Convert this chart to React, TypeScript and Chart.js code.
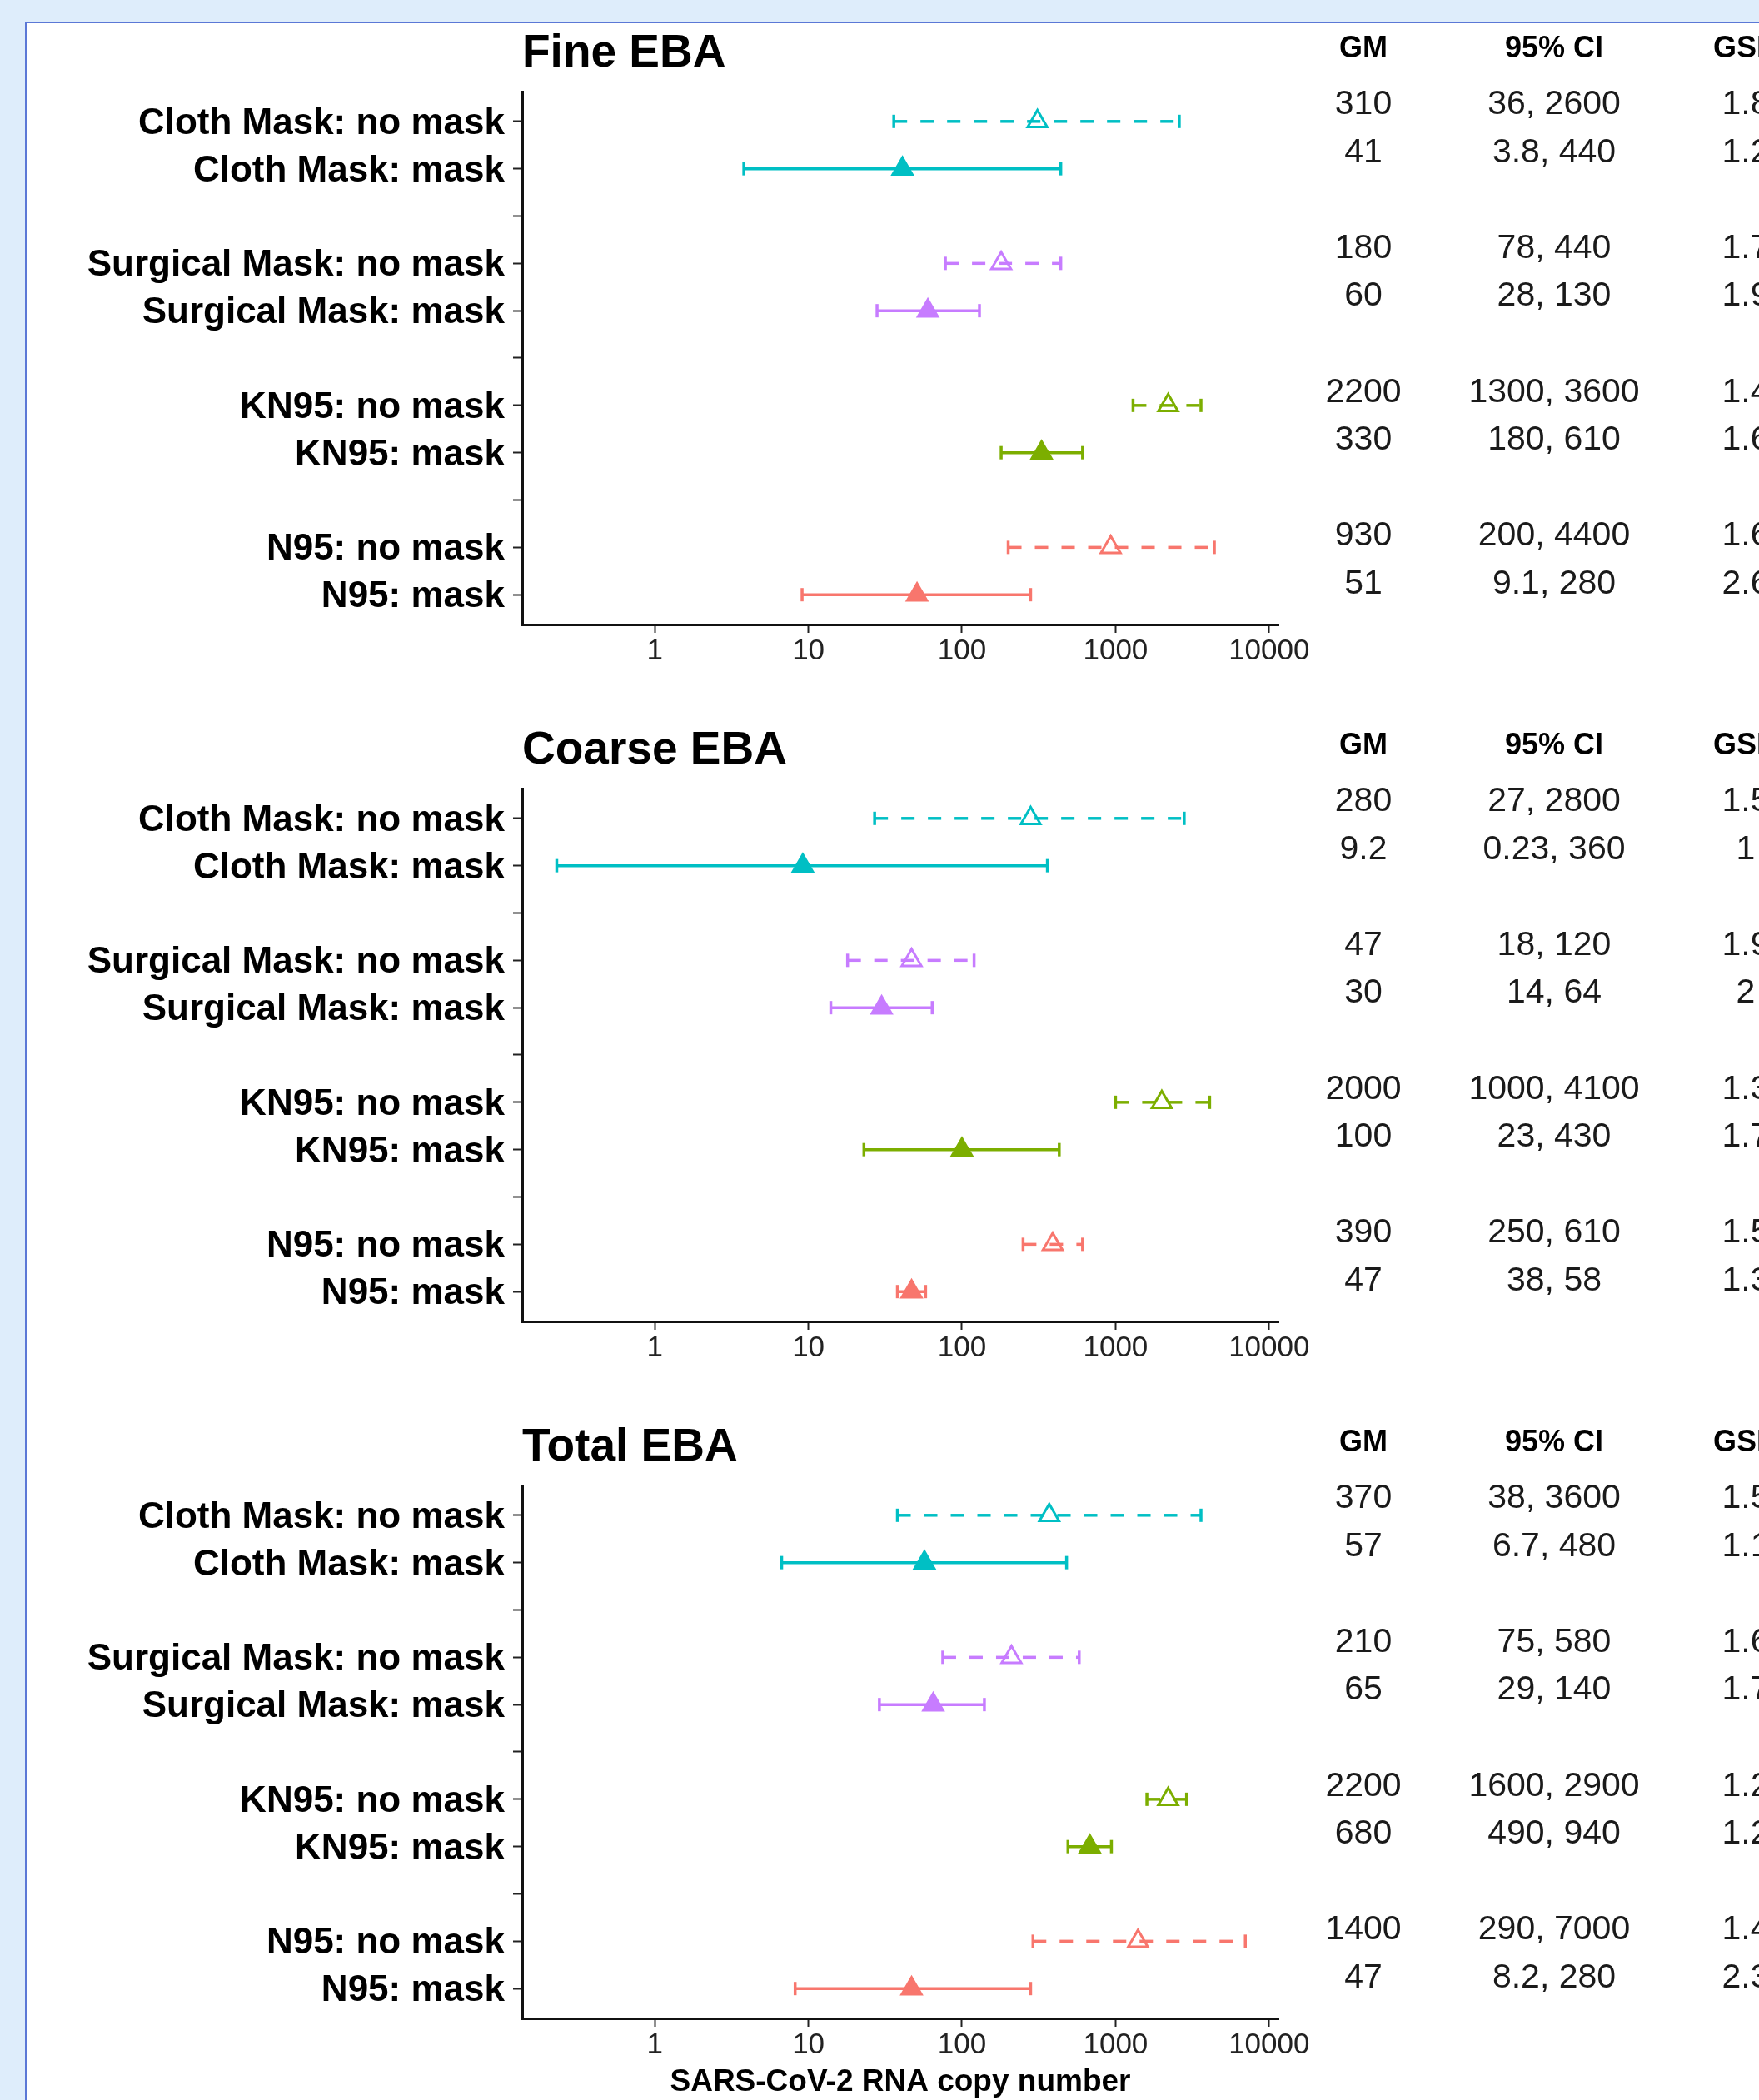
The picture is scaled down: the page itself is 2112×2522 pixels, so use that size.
import React, { useEffect, useRef } from 'react';
import { Chart, registerables } from 'chart.js';

Chart.register(...registerables);

// ---------- data ----------
const rowLabels = [
  'Cloth Mask: no mask', 'Cloth Mask: mask', '',
  'Surgical Mask: no mask', 'Surgical Mask: mask', '',
  'KN95: no mask', 'KN95: mask', '',
  'N95: no mask', 'N95: mask',
];
const rowSlots = [0, 1, 3, 4, 6, 7, 9, 10];
const rowColors = ['#00BFC4', '#00BFC4', '#C77CFF', '#C77CFF', '#7CAE00', '#7CAE00', '#F8766D', '#F8766D'];
const rowNoMask = [true, false, true, false, true, false, true, false];
const xTickValues = [1, 10, 100, 1000, 10000];
const tableHeaders = ['GM', '95% CI', 'GSD'];

const panelTitles = ['Fine EBA', 'Coarse EBA', 'Total EBA'];

const fineGM = [310, 41, 180, 60, 2200, 330, 930, 51];
const fineLo = [36, 3.8, 78, 28, 1300, 180, 200, 9.1];
const fineHi = [2600, 440, 440, 130, 3600, 610, 4400, 280];
const fineGSD = [1.8, 1.2, 1.7, 1.9, 1.4, 1.6, 1.6, 2.6];

const coarseGM = [280, 9.2, 47, 30, 2000, 100, 390, 47];
const coarseLo = [27, 0.23, 18, 14, 1000, 23, 250, 38];
const coarseHi = [2800, 360, 120, 64, 4100, 430, 610, 58];
const coarseGSD = [1.5, 1, 1.9, 2, 1.3, 1.7, 1.5, 1.3];

const totalGM = [370, 57, 210, 65, 2200, 680, 1400, 47];
const totalLo = [38, 6.7, 75, 29, 1600, 490, 290, 8.2];
const totalHi = [3600, 480, 580, 140, 2900, 940, 7000, 280];
const totalGSD = [1.5, 1.1, 1.6, 1.7, 1.2, 1.2, 1.4, 2.3];

const xAxisTitle = 'SARS-CoV-2 RNA copy number';

// ---------- layout constants ----------
const FONT = '"Liberation Sans", Arial, Helvetica, sans-serif';
const W = 2112;
const PANEL_STEP = 837;
const PLOT_RIGHT = 1535;
const PLOT_LEFT = 627;
const PLOT_TOP = 110;
const PLOT_BOTTOM = 750;
const XAXIS_H = 87;
const COL_X = [1637, 1866, 2096];
const TABLE_FIRST = 12;
const TABLE_STEP = 57.6;

type PanelProps = {
  idx: number;
  title: string;
  gm: number[];
  lo: number[];
  hi: number[];
  gsd: number[];
  last: boolean;
};

const textPlugin = {
  id: 'panelText',
  afterDraw(chart: any, _args: any, opts: any) {
    const { ctx, chartArea } = chart;
    ctx.save();
    ctx.fillStyle = '#000';
    ctx.textBaseline = 'alphabetic';
    ctx.textAlign = 'left';
    ctx.font = `bold 55px ${FONT}`;
    ctx.fillText(opts.title, chartArea.left, chartArea.top - 30);
    ctx.textAlign = 'center';
    ctx.font = `bold 36px ${FONT}`;
    tableHeaders.forEach((h, j) => ctx.fillText(h, COL_X[j], chartArea.top - 41));
    ctx.font = `41px ${FONT}`;
    ctx.fillStyle = '#1a1a1a';
    (opts.gm as number[]).forEach((g, i) => {
      const y = chartArea.top + TABLE_FIRST + rowSlots[i] * TABLE_STEP + 15;
      ctx.fillText(String(g), COL_X[0], y);
      ctx.fillText(`${opts.lo[i]}, ${opts.hi[i]}`, COL_X[1], y);
      ctx.fillText(String(opts.gsd[i]), COL_X[2], y);
    });
    if (opts.last) {
      ctx.fillStyle = '#000';
      ctx.font = `bold 37px ${FONT}`;
      ctx.fillText(xAxisTitle, (chartArea.left + chartArea.right) / 2, chartArea.bottom + 87);
    }
    ctx.restore();
  },
};

function Panel({ idx, title, gm, lo, hi, gsd, last }: PanelProps) {
  const ref = useRef<HTMLCanvasElement | null>(null);
  const H = last ? 848 : PANEL_STEP;

  useEffect(() => {
    if (!ref.current) return;
    const datasets: any[] = [
      {
        type: 'scatter',
        data: gm.map((v, i) => ({ x: v, y: rowSlots[i] })),
        pointStyle: 'triangle',
        pointRadius: 13.5,
        pointBorderWidth: 3,
        pointBackgroundColor: rowColors.map((c, i) => (rowNoMask[i] ? 'rgba(255,255,255,0)' : c)),
        pointBorderColor: rowColors,
        showLine: false,
      },
      ...rowSlots.map((s, i) => ({
        type: 'scatter',
        data: [
          { x: lo[i], y: s },
          { x: hi[i], y: s },
        ],
        showLine: true,
        fill: false,
        borderColor: rowColors[i],
        borderWidth: 3.5,
        borderDash: rowNoMask[i] ? [16, 16] : [],
        pointStyle: 'line',
        pointRotation: 90,
        pointRadius: 8,
        pointBorderWidth: 3.5,
        pointBorderColor: rowColors[i],
        pointBackgroundColor: rowColors[i],
      })),
    ];

    const chart = new Chart(ref.current, {
      type: 'scatter',
      data: { datasets },
      plugins: [textPlugin as any],
      options: {
        responsive: false,
        animation: false,
        events: [],
        layout: {
          padding: { left: 0, right: W - PLOT_RIGHT, top: PLOT_TOP, bottom: H - PLOT_BOTTOM - XAXIS_H },
        },
        plugins: {
          legend: { display: false },
          tooltip: { enabled: false },
          title: { display: false },
          panelText: { title, gm, lo, hi, gsd, last },
        } as any,
        scales: {
          x: {
            type: 'logarithmic',
            position: 'bottom',
            min: 0.137,
            max: 11500,
            afterBuildTicks: (s: any) => {
              s.ticks = xTickValues.map((v) => ({ value: v }));
            },
            afterFit: (s: any) => {
              s.height = XAXIS_H;
            },
            ticks: {
              callback: (v: any) => String(v),
              font: { family: FONT, size: 35 },
              color: '#222',
              padding: 1,
              autoSkip: false,
              maxRotation: 0,
              minRotation: 0,
            },
            grid: { drawOnChartArea: false, drawTicks: true, tickLength: 10, tickColor: '#222', tickWidth: 2 },
            border: { display: true, color: '#111', width: 3 },
          },
          y: {
            type: 'linear',
            reverse: true,
            min: -0.63,
            max: 10.63,
            afterBuildTicks: (s: any) => {
              s.ticks = rowLabels.map((_, i) => ({ value: i }));
            },
            afterFit: (s: any) => {
              s.width = PLOT_LEFT;
            },
            ticks: {
              callback: (v: any) => rowLabels[v] ?? '',
              font: { family: FONT, size: 44, weight: 'bold' },
              color: '#000',
              padding: 10,
              labelOffset: 3,
              autoSkip: false,
            },
            grid: { drawOnChartArea: false, drawTicks: true, tickLength: 11, tickColor: '#222', tickWidth: 2 },
            border: { display: true, color: '#111', width: 3 },
          },
        } as any,
      },
    });
    return () => chart.destroy();
  }, []);

  return (
    <canvas
      ref={ref}
      width={W}
      height={H}
      style={{ position: 'absolute', left: 0, top: idx * PANEL_STEP, width: W, height: H, display: 'block' }}
    />
  );
}

export default function App() {
  return (
    <div
      style={{
        position: 'fixed',
        left: 0,
        top: 0,
        width: W,
        height: 2522,
        overflow: 'hidden',
        background: '#deedfb',
      }}
    >
      <div
        style={{
          position: 'absolute',
          left: 30,
          top: 26,
          width: 2300,
          height: 2700,
          background: '#ffffff',
          border: '2px solid #5b78d6',
        }}
      />
      <Panel idx={0} title={panelTitles[0]} gm={fineGM} lo={fineLo} hi={fineHi} gsd={fineGSD} last={false} />
      <Panel idx={1} title={panelTitles[1]} gm={coarseGM} lo={coarseLo} hi={coarseHi} gsd={coarseGSD} last={false} />
      <Panel idx={2} title={panelTitles[2]} gm={totalGM} lo={totalLo} hi={totalHi} gsd={totalGSD} last={true} />
    </div>
  );
}
